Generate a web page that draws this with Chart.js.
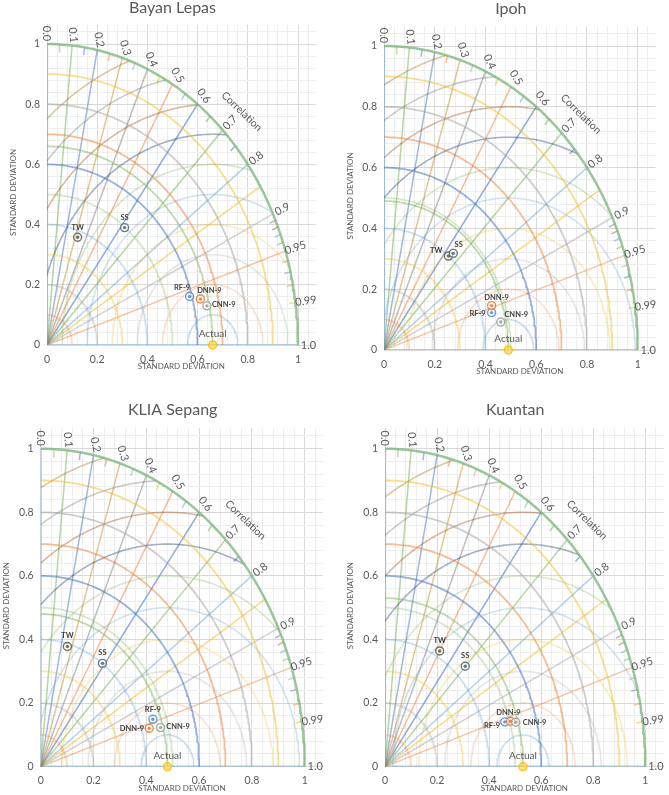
<!DOCTYPE html>
<html><head><meta charset="utf-8">
<script src="https://cdn.jsdelivr.net/npm/chart.js@4.4.1/dist/chart.umd.min.js"></script>
<style>
html,body{margin:0;padding:0;background:#fff;}
#wrap{position:relative;width:669px;height:795px;overflow:hidden;background:#fff;}
.pane{position:absolute;}
</style></head><body>
<div id="wrap">
<div class="pane" style="left:0;top:0"><canvas id="c0" width="335" height="400"></canvas></div>
<div class="pane" style="left:335px;top:0"><canvas id="c1" width="334" height="400"></canvas></div>
<div class="pane" style="left:0;top:400px"><canvas id="c2" width="335" height="395"></canvas></div>
<div class="pane" style="left:335px;top:400px"><canvas id="c3" width="334" height="395"></canvas></div>
</div>
<script>
// ---------- DATA ----------
const stations = ['Bayan Lepas', 'Ipoh', 'KLIA Sepang', 'Kuantan'];
const models = ['TW', 'SS', 'RF-9', 'DNN-9', 'CNN-9'];
const actualStd = [0.66, 0.49, 0.48, 0.53];
// model points (x = std*corr, y = std*sin), order = models
const bayanLepasX = [0.122, 0.309, 0.568, 0.611, 0.637];
const bayanLepasY = [0.358, 0.390, 0.161, 0.153, 0.130];
const ipohX = [0.254, 0.273, 0.424, 0.424, 0.460];
const ipohY = [0.309, 0.318, 0.123, 0.146, 0.092];
const kliaX = [0.101, 0.234, 0.425, 0.411, 0.454];
const kliaY = [0.378, 0.325, 0.149, 0.121, 0.123];
const kuantanX = [0.210, 0.308, 0.460, 0.482, 0.502];
const kuantanY = [0.364, 0.316, 0.141, 0.143, 0.140];
// diagram construction values
const corrLabelValues = [0, 0.1, 0.2, 0.3, 0.4, 0.5, 0.6, 0.7, 0.8, 0.9, 0.95, 0.99, 1.0];
const corrLabelTexts = ['0.0', '0.1', '0.2', '0.3', '0.4', '0.5', '0.6', '0.7', '0.8', '0.9', '0.95', '0.99', '1.0'];
const corrLineValues = [0, 0.1, 0.2, 0.3, 0.4, 0.5, 0.6, 0.7, 0.8, 0.85, 0.9, 0.95, 1.0];
const corrTickValues = [0.05, 0.15, 0.25, 0.35, 0.45, 0.55, 0.65, 0.75, 0.91, 0.92, 0.93, 0.94, 0.96, 0.97, 0.98, 0.99];
const stdArcRadii = [0.1, 0.2, 0.3, 0.4, 0.5, 0.6, 0.7, 0.8, 0.9, 1.0];
const rmsdArcRadii = [0.1, 0.2, 0.3, 0.4, 0.5, 0.6, 0.7, 0.8, 0.9, 1.0];
const axisTickLabels = ['0', '0.2', '0.4', '0.6', '0.8', '1'];
const axisTitle = 'STANDARD DEVIATION';
const corrTitle = 'Correlation';
const actualLabel = 'Actual';

// ---------- STYLE ----------
const C = {
  blue: a => `rgba(68,114,196,${a})`,
  orange: a => `rgba(237,125,49,${a})`,
  gray: a => `rgba(165,165,165,${a})`,
  gold: a => `rgba(240,185,20,${a})`,
  lblue: a => `rgba(91,155,213,${a})`,
  green: a => `rgba(112,173,71,${a})`,
  dblue: a => `rgba(38,68,120,${a})`,
  brown: a => `rgba(158,72,14,${a})`,
  dgray: a => `rgba(99,99,99,${a})`,
  olive: a => `rgba(153,115,0,${a})`,
  tan: a => `rgba(196,146,40,${a})`
};
const stdArcColors = [C.orange(0.28), C.gray(0.38), C.gold(0.35), C.lblue(0.32), C.green(0.28), C.blue(0.55), C.orange(0.5), C.gray(0.55), C.gold(0.48), 'rgba(120,180,120,0.75)'];
const rmsdArcColors = [C.lblue(0.32), C.orange(0.24), C.gray(0.28), C.gold(0.28), C.lblue(0.28), C.green(0.28), C.dblue(0.42), C.brown(0.38), C.dgray(0.33), C.olive(0.38)];
const corrLineColors = [C.lblue(0.5), C.green(0.5), C.blue(0.5), C.tan(0.5), C.dgray(0.42), C.orange(0.5), C.blue(0.6), C.green(0.5), C.lblue(0.45), C.gold(0.5), C.gray(0.5), C.orange(0.45), C.lblue(0.5)];
const corrTickColors = [C.green(0.45), C.blue(0.5), C.orange(0.5), C.gray(0.5), C.gold(0.5), C.lblue(0.5), C.green(0.5), C.blue(0.5), C.dgray(0.45), C.brown(0.45), C.lblue(0.5), C.green(0.5), C.gray(0.5), C.blue(0.45), C.orange(0.45), C.gold(0.5)];
const markerColors = ['rgba(95,98,72,0.9)', 'rgba(84,110,130,0.9)', 'rgba(91,143,214,0.9)', 'rgba(237,125,49,0.9)', 'rgba(160,160,160,0.9)'];
const actualColor = 'rgba(255,192,0,0.9)';
const TXT = '#595959';

const panels = [
  {xs: bayanLepasX, ys: bayanLepasY, ox: 47, oy: 345, ux: 251, uy: 301, titleY: 13, yTitleX: 13,
   lab: [[0,-10,'center'],[0,-10.5,'center'],[-7.5,-8.5,'center'],[9,-8.5,'center'],[5,-1.5,'left']]},
  {xs: ipohX, ys: ipohY, ox: 49, oy: 350, ux: 253.7, uy: 304, titleY: 14, yTitleX: 15,
   lab: [[-6,-5,'right'],[5.4,-8.3,'center'],[-6,0.5,'right'],[5,-8,'center'],[3.7,-7,'left']]},
  {xs: kliaX, ys: kliaY, ox: 40.7, oy: 366.7, ux: 264, uy: 318, titleY: 15, yTitleX: 6,
   lab: [[0,-11,'center'],[0,-11,'center'],[0,-9.3,'center'],[-5,0,'right'],[5.7,-1,'left']]},
  {xs: kuantanX, ys: kuantanY, ox: 50, oy: 366.7, ux: 263.7, uy: 318, titleY: 15, yTitleX: 15,
   lab: [[0,-10.7,'center'],[0,-10.7,'center'],[-4.7,3.3,'right'],[-2,-8.3,'center'],[7,0.7,'left']]}
];
const XMAX = 1.07, YMAX = 1.065;

// ---------- GEOMETRY HELPERS ----------
function stdArc(s) {
  const pts = [];
  for (let i = 0; i <= 120; i++) { const t = i * Math.PI / 240; pts.push({x: s * Math.cos(t), y: s * Math.sin(t)}); }
  return pts;
}
function rmsdArc(c, r) {
  let t0 = 0, t1 = Math.PI;
  if (c + r > 1) { const xi = (1 + c * c - r * r) / (2 * c); t0 = Math.acos(Math.max(-1, Math.min(1, (xi - c) / r))); }
  if (r > c) t1 = Math.acos(-c / r);
  const pts = [];
  if (t0 >= t1) return pts;
  for (let i = 0; i <= 120; i++) { const t = t0 + (t1 - t0) * i / 120; pts.push({x: c + r * Math.cos(t), y: r * Math.sin(t)}); }
  return pts;
}
function radial(k, r0, r1) {
  const th = Math.acos(k);
  return [{x: r0 * Math.cos(th), y: r0 * Math.sin(th)}, {x: r1 * Math.cos(th), y: r1 * Math.sin(th)}];
}
function lineDs(points, color, width) {
  return {data: points, showLine: true, borderColor: color, borderWidth: width, pointRadius: 0, pointHoverRadius: 0, fill: false, tension: 0, order: 10};
}
const gridVals = []; for (let i = 0; i <= 26; i++) gridVals.push(Math.round(i * 4) / 100);
const isMajor = v => Math.abs(v * 5 - Math.round(v * 5)) < 1e-6;
const fmt = v => isMajor(v) ? axisTickLabels[Math.round(v * 5)] : '';

// ---------- TEXT PLUGIN ----------
const textPlugin = {
  id: 'taylorText',
  afterDatasetsDraw(chart, args, opts) {
    const p = panels[opts.panel], name = stations[opts.panel];
    const ctx = chart.ctx, xs = chart.scales.x, ys = chart.scales.y, ca = chart.chartArea;
    const X = v => xs.getPixelForValue(v), Y = v => ys.getPixelForValue(v);
    ctx.save();
    ctx.fillStyle = TXT;
    // title
    ctx.font = '16px Lato'; ctx.textAlign = 'center'; ctx.textBaseline = 'alphabetic';
    ctx.fillText(name, X(0.5), p.titleY);
    // axis titles
    ctx.font = '8px Lato'; ctx.textBaseline = 'middle';
    ctx.fillText(axisTitle, (ca.left + ca.right) / 2, ca.bottom + 21.7);
    ctx.save(); ctx.translate(p.yTitleX, Y(0.5) - 2); ctx.rotate(-Math.PI / 2);
    ctx.fillText(axisTitle, 0, 0); ctx.restore();
    // correlation labels
    ctx.font = '11px Lato';
    corrLabelValues.forEach((k, i) => {
      const th = Math.acos(k);
      const px = X(Math.cos(th)) + 10.5 * Math.cos(th), py = Y(Math.sin(th)) - 10.5 * Math.sin(th);
      const rot = k <= 0.6 ? th : (k >= 1 ? 0 : -th);
      ctx.save(); ctx.translate(px, py); ctx.rotate(rot);
      ctx.textAlign = 'center'; ctx.fillText(corrLabelTexts[i], 0, 0); ctx.restore();
    });
    ctx.save(); ctx.translate(X(0.776), Y(0.776)); ctx.rotate(44 * Math.PI / 180);
    ctx.font = '10.5px Lato'; ctx.textAlign = 'center'; ctx.fillText(corrTitle, 0, 0); ctx.restore();
    // model labels
    ctx.fillStyle = '#404040'; ctx.font = 'bold 7.5px Lato';
    models.forEach((m, i) => {
      const o = p.lab[i];
      ctx.textAlign = o[2];
      ctx.fillText(m, X(p.xs[i]) + o[0], Y(p.ys[i]) + o[1]);
    });
    ctx.fillStyle = TXT; ctx.font = '10px Lato'; ctx.textAlign = 'center';
    ctx.fillText(actualLabel, X(actualStd[opts.panel]), Y(0) - 11);
    ctx.restore();
  }
};

// ---------- BUILD CHARTS ----------
panels.forEach((p, idx) => {
  const canvas = document.getElementById('c' + idx);
  const W = canvas.width, H = canvas.height;
  const ref = actualStd[idx];
  const ds = [];
  // markers (top)
  const pts = models.map((m, i) => ({x: p.xs[i], y: p.ys[i]}));
  ds.push({data: pts, pointRadius: 4, pointBorderWidth: 1.4, pointBorderColor: markerColors, pointBackgroundColor: 'rgba(255,255,255,0.55)', showLine: false, order: 1});
  ds.push({data: pts, pointRadius: 1.7, pointBorderWidth: 0, pointBackgroundColor: markerColors, showLine: false, order: 0});
  ds.push({data: [{x: ref, y: 0}], pointRadius: 4, pointBorderWidth: 1.4, pointBorderColor: actualColor, pointBackgroundColor: 'rgba(255,214,80,0.7)', showLine: false, order: 0, clip: false});
  // std arcs around origin
  stdArcRadii.forEach((s, i) => ds.push(lineDs(stdArc(s), stdArcColors[i], s === 1 ? 2.5 : 1.8)));
  ds.push(lineDs(stdArc(ref), C.green(0.45), 1.8));
  // rmsd arcs around actual
  rmsdArcRadii.forEach((r, i) => ds.push(lineDs(rmsdArc(ref, r), rmsdArcColors[i], 1.6)));
  // correlation lines
  corrLineValues.forEach((k, i) => ds.push(lineDs(radial(k, 0, 1), corrLineColors[i], (k === 0 || k === 1) ? 2.2 : 1.5)));
  // correlation ticks
  corrTickValues.forEach((k, i) => ds.push(lineDs(radial(k, 0.975, 1), corrTickColors[i], 1.5)));

  const right = p.ox + p.ux * XMAX, top = p.oy - p.uy * YMAX;
  const gridColor = ctx => (ctx.tick && isMajor(ctx.tick.value)) ? '#d9d9d9' : '#eeeeee';
  new Chart(canvas, {
    type: 'scatter',
    data: {datasets: ds},
    plugins: [textPlugin],
    options: {
      responsive: false, animation: false, devicePixelRatio: 1, events: [],
      layout: {padding: {left: 0, top: top, right: W - right, bottom: 0}},
      plugins: {legend: {display: false}, tooltip: {enabled: false}, title: {display: false}, taylorText: {panel: idx}},
      scales: {
        x: {type: 'linear', min: 0, max: XMAX,
            afterFit: s => { s.height = H - p.oy; },
            afterBuildTicks: s => { s.ticks = gridVals.map(v => ({value: v})); },
            ticks: {autoSkip: false, maxRotation: 0, minRotation: 0, padding: 8, color: TXT, font: {family: 'Lato', size: 10.5}, callback: fmt},
            grid: {drawTicks: false, color: gridColor, lineWidth: 1},
            border: {display: false}},
        y: {type: 'linear', min: 0, max: YMAX,
            afterFit: s => { s.width = p.ox; },
            afterBuildTicks: s => { s.ticks = gridVals.map(v => ({value: v})); },
            ticks: {autoSkip: false, padding: 7, color: TXT, font: {family: 'Lato', size: 10.5}, callback: fmt},
            grid: {drawTicks: false, color: gridColor, lineWidth: 1},
            border: {display: false}}
      }
    }
  });
});
</script>
</body></html>
